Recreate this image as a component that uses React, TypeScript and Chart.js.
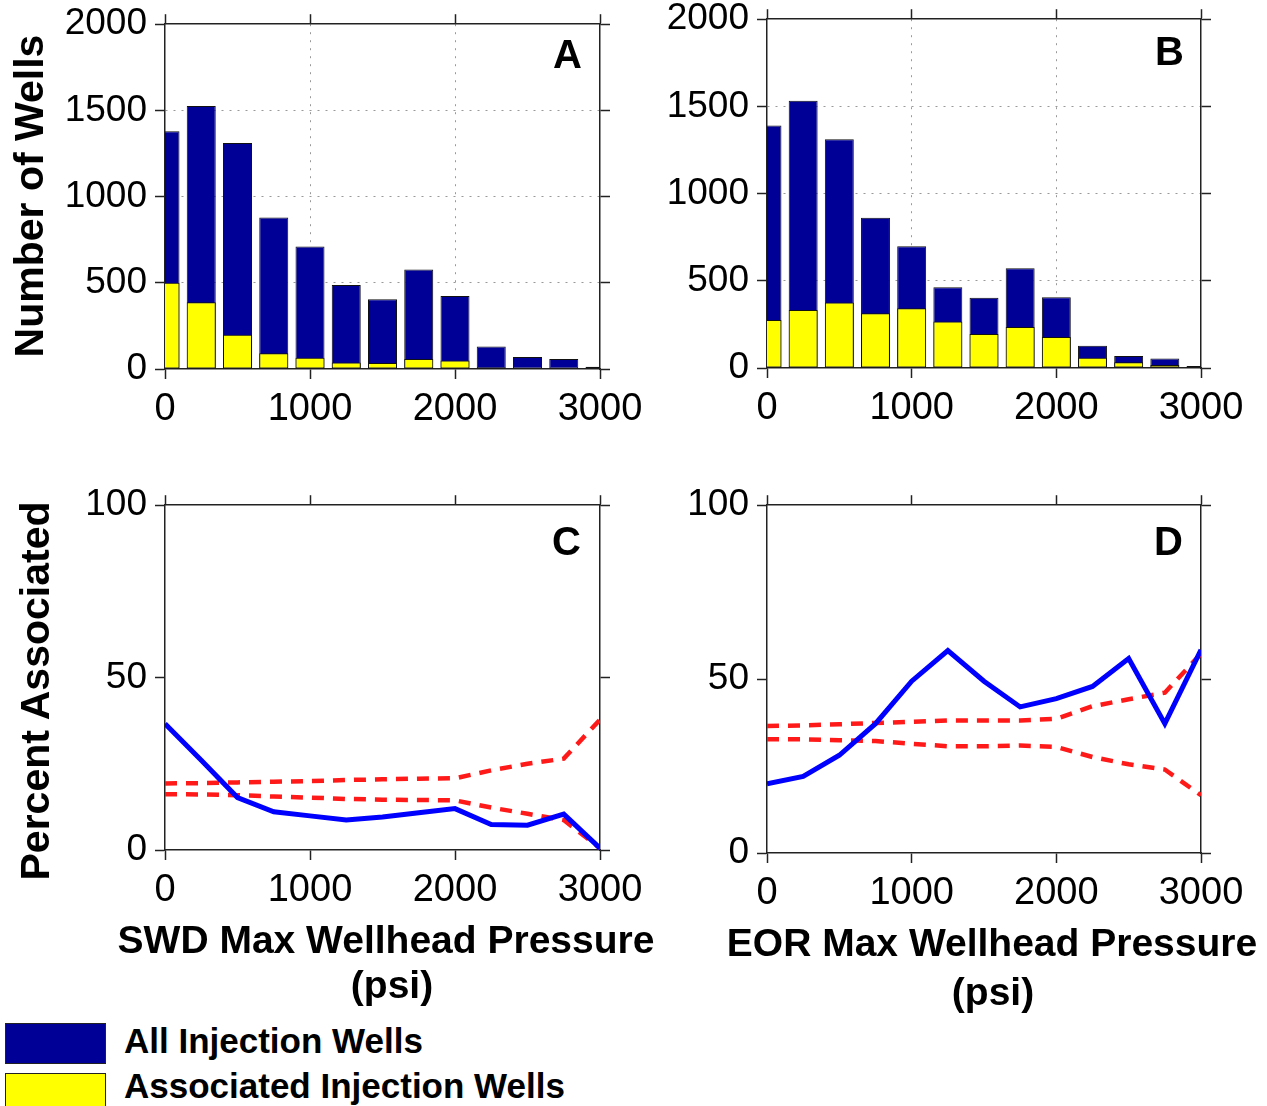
import React, { useEffect, useRef } from 'react';
import { Chart, registerables } from 'chart.js';

Chart.register(...registerables);

// ---------- data ----------
const pressures = [0, 250, 500, 750, 1000, 1250, 1500, 1750, 2000, 2250, 2500, 2750, 3000];

const swdAllWells = [1379, 1525, 1311, 879, 711, 487, 404, 577, 423, 131, 69, 58, 13];
const swdAssocWells = [500, 387, 198, 92, 65, 38, 35, 58, 50, 8, 2, 1, 0];
const eorAllWells = [1390, 1533, 1312, 862, 698, 463, 403, 572, 405, 128, 69, 54, 11];
const eorAssocWells = [275, 333, 375, 314, 342, 266, 195, 235, 178, 59, 33, 17, 2];

const swdPercent = [36.6, 26.0, 15.2, 11.1, 9.9, 8.7, 9.6, 10.8, 12.0, 7.4, 7.2, 10.4, 0.5];
const swdUpper = [19.3, 19.4, 19.6, 19.8, 20.0, 20.3, 20.5, 20.7, 20.8, 23.1, 25.0, 26.5, 37.8];
const swdLower = [16.2, 16.1, 15.9, 15.5, 15.2, 14.8, 14.6, 14.5, 14.4, 12.3, 10.5, 8.7, 0.5];
const eorPercent = [19.9, 22.0, 28.1, 37.2, 49.4, 58.2, 49.4, 42.0, 44.4, 47.9, 55.9, 37.2, 58.4];
const eorUpper = [36.5, 36.7, 37.0, 37.4, 37.7, 38.1, 38.1, 38.1, 38.6, 42.2, 44.2, 46.1, 57.3];
const eorLower = [32.7, 32.7, 32.4, 32.2, 31.4, 30.7, 30.7, 30.9, 30.5, 27.6, 25.5, 24.0, 16.6];

const pressureTicks = [0, 1000, 2000, 3000];
const countTicks = [0, 500, 1000, 1500, 2000];
const percentTicks = [0, 50, 100];

const countYLabel = 'Number of Wells';
const percentYLabel = 'Percent Associated';
const swdXLabel = ['SWD Max Wellhead Pressure', '(psi)'];
const eorXLabel = ['EOR Max Wellhead Pressure', '(psi)'];
const legendLabels = ['All Injection Wells', 'Associated Injection Wells'];

// ---------- styling ----------
const FONT = "'Liberation Sans', Arial, Helvetica, sans-serif";
const NAVY = '#000096';
const YELLOW = '#ffff00';
const BLUE = '#0000ff';
const RED = '#ff1a1a';
const FRAME = '#222222';
const GRID = 'rgba(0,0,0,0.4)';

const YW = 140; // left axis width
const XH = 70; // bottom axis height
const PT = 20; // top padding
const PR = 45; // right padding
const TL = 10; // tick length

const toXY = (xs: number[], ys: number[]) => xs.map((x, i) => ({ x, y: ys[i] }));

const letterPlugin = {
  id: 'panelLetter',
  afterDraw(chart: any, _args: any, opts: any) {
    const { ctx, chartArea } = chart;
    ctx.save();
    ctx.font = `bold 40px ${FONT}`;
    ctx.fillStyle = '#000';
    ctx.textAlign = 'right';
    ctx.textBaseline = 'alphabetic';
    ctx.fillText(opts.text, chartArea.right - opts.dx, chartArea.top + opts.dy);
    ctx.restore();
  },
};

type Spec = {
  kind: 'bar' | 'line';
  left: number;
  top: number;
  w: number;
  h: number;
  letter: string;
  dx: number;
  dy: number;
  yMax: number;
  yTicks: number[];
  grid: boolean;
  datasets: any[];
};

function setTicks(list: number[]) {
  return (s: any) => {
    s.ticks = list.map((v) => ({ value: v }));
  };
}

const plainLabel = (v: any) => String(v);

function buildConfig(p: Spec): any {
  const xGridColor = (c: any) =>
    p.grid && c.tick && c.tick.value > 0 && c.tick.value < 3000 ? GRID : 'rgba(0,0,0,0)';
  const yGridColor = (c: any) =>
    p.grid && c.tick && c.tick.value > 0 && c.tick.value < p.yMax ? GRID : 'rgba(0,0,0,0)';
  const border = { display: true, color: FRAME, width: 1.5, dash: [2, 6] };
  return {
    type: p.kind,
    data: { datasets: p.datasets },
    options: {
      animation: false,
      responsive: false,
      maintainAspectRatio: false,
      devicePixelRatio: 1,
      events: [],
      layout: { padding: { left: 0, top: PT, right: PR, bottom: 0 } },
      plugins: {
        legend: { display: false },
        tooltip: { enabled: false },
        panelLetter: { text: p.letter, dx: p.dx, dy: p.dy },
      },
      scales: {
        x: {
          type: 'linear',
          position: 'bottom',
          min: 0,
          max: 3000,
          offset: false,
          afterBuildTicks: setTicks(pressureTicks),
          afterFit: (s: any) => {
            s.height = XH;
          },
          ticks: {
            font: { family: FONT, size: 38 },
            color: '#000',
            padding: 8,
            maxRotation: 0,
            autoSkip: false,
            callback: plainLabel,
          },
          grid: {
            offset: false,
            drawOnChartArea: true,
            color: xGridColor,
            tickColor: FRAME,
            tickLength: TL,
            tickWidth: 1.5,
            lineWidth: 1,
          },
          border,
        },
        x2: {
          type: 'linear',
          position: 'top',
          min: 0,
          max: 3000,
          offset: false,
          afterBuildTicks: setTicks(pressureTicks),
          afterFit: (s: any) => {
            s.height = TL;
          },
          ticks: { display: false },
          grid: {
            offset: false,
            drawOnChartArea: false,
            tickColor: FRAME,
            tickLength: TL,
            tickWidth: 1.5,
          },
          border: { display: true, color: FRAME, width: 1.5 },
        },
        y: {
          type: 'linear',
          position: 'left',
          min: 0,
          max: p.yMax,
          afterBuildTicks: setTicks(p.yTicks),
          afterFit: (s: any) => {
            s.width = YW;
          },
          ticks: {
            font: { family: FONT, size: 37 },
            color: '#000',
            padding: 8,
            autoSkip: false,
            callback: plainLabel,
          },
          grid: {
            drawOnChartArea: true,
            color: yGridColor,
            tickColor: FRAME,
            tickLength: TL,
            tickWidth: 1.5,
            lineWidth: 1,
          },
          border,
        },
        y2: {
          type: 'linear',
          position: 'right',
          min: 0,
          max: p.yMax,
          afterBuildTicks: setTicks(p.yTicks),
          afterFit: (s: any) => {
            s.width = TL;
          },
          ticks: { display: false },
          grid: {
            drawOnChartArea: false,
            tickColor: FRAME,
            tickLength: TL,
            tickWidth: 1.5,
          },
          border: { display: true, color: FRAME, width: 1.5 },
        },
      },
    },
    plugins: [letterPlugin],
  };
}

function barSets(all: number[], assoc: number[]) {
  const common = {
    borderColor: '#111',
    borderWidth: 1,
    barPercentage: 0.8,
    categoryPercentage: 1,
    grouped: false,
    clip: 0,
    borderSkipped: false,
  };
  return [
    { ...common, label: legendLabels[1], data: toXY(pressures, assoc), backgroundColor: YELLOW, order: 0 },
    { ...common, label: legendLabels[0], data: toXY(pressures, all), backgroundColor: NAVY, order: 1 },
  ];
}

function lineSets(pct: number[], upper: number[], lower: number[]) {
  const dashed = {
    borderColor: RED,
    borderWidth: 4.5,
    borderDash: [12, 9],
    pointRadius: 0,
    tension: 0,
    fill: false,
    order: 1,
  };
  return [
    {
      label: 'Percent associated',
      data: toXY(pressures, pct),
      borderColor: BLUE,
      borderWidth: 5,
      pointRadius: 0,
      tension: 0,
      fill: false,
      order: 0,
    },
    { ...dashed, label: 'Upper bound', data: toXY(pressures, upper) },
    { ...dashed, label: 'Lower bound', data: toXY(pressures, lower) },
  ];
}

const specs: Spec[] = [
  {
    kind: 'bar', left: 165, top: 24, w: 435, h: 345, letter: 'A', dx: 18, dy: 44,
    yMax: 2000, yTicks: countTicks, grid: true, datasets: barSets(swdAllWells, swdAssocWells),
  },
  {
    kind: 'bar', left: 767, top: 19, w: 434, h: 349, letter: 'B', dx: 17, dy: 46,
    yMax: 2000, yTicks: countTicks, grid: true, datasets: barSets(eorAllWells, eorAssocWells),
  },
  {
    kind: 'line', left: 165, top: 505, w: 435, h: 345, letter: 'C', dx: 19, dy: 50,
    yMax: 100, yTicks: percentTicks, grid: false, datasets: lineSets(swdPercent, swdUpper, swdLower),
  },
  {
    kind: 'line', left: 767, top: 505, w: 434, h: 348, letter: 'D', dx: 18, dy: 50,
    yMax: 100, yTicks: percentTicks, grid: false, datasets: lineSets(eorPercent, eorUpper, eorLower),
  },
];

function Panel({ spec }: { spec: Spec }) {
  const ref = useRef<HTMLCanvasElement>(null);
  useEffect(() => {
    if (!ref.current) return;
    const chart = new Chart(ref.current, buildConfig(spec));
    return () => chart.destroy();
  }, [spec]);
  const w = YW + spec.w + TL + PR;
  const h = PT + TL + spec.h + XH;
  return (
    <canvas
      ref={ref}
      width={w}
      height={h}
      style={{ position: 'absolute', left: spec.left - YW, top: spec.top - PT - TL, width: w, height: h }}
    />
  );
}

function VTitle({ text, cx, cy, size }: { text: string; cx: number; cy: number; size: number }) {
  const w = 500;
  const h = 46;
  return (
    <div
      style={{
        position: 'absolute',
        left: cx - w / 2,
        top: cy - h / 2,
        width: w,
        height: h,
        lineHeight: `${h}px`,
        textAlign: 'center',
        fontFamily: FONT,
        fontWeight: 'bold',
        fontSize: size,
        color: '#000',
        whiteSpace: 'nowrap',
        transform: 'rotate(-90deg)',
        transformOrigin: '50% 50%',
      }}
    >
      {text}
    </div>
  );
}

// text line placed by its baseline
function HText({ text, cx, baseline, size, left }: { text: string; cx?: number; baseline: number; size: number; left?: number }) {
  const lh = Math.round(size * 1.2);
  const base = (lh - size * 1.117) / 2 + size * 0.905;
  const w = 700;
  const style: any = {
    position: 'absolute',
    top: baseline - base,
    height: lh,
    lineHeight: `${lh}px`,
    fontFamily: FONT,
    fontWeight: 'bold',
    fontSize: size,
    color: '#000',
    whiteSpace: 'nowrap',
  };
  if (left !== undefined) {
    style.left = left;
  } else {
    style.left = (cx as number) - w / 2;
    style.width = w;
    style.textAlign = 'center';
  }
  return <div style={style}>{text}</div>;
}

export default function App() {
  return (
    <div
      style={{
        position: 'absolute',
        left: 0,
        top: 0,
        width: 1267,
        height: 1106,
        overflow: 'hidden',
        background: '#fff',
      }}
    >
      {specs.map((s) => (
        <Panel key={s.letter} spec={s} />
      ))}
      <VTitle text={countYLabel} cx={29} cy={196} size={41} />
      <VTitle text={percentYLabel} cx={35} cy={691} size={41} />
      <HText text={swdXLabel[0]} cx={386} baseline={953} size={39} />
      <HText text={swdXLabel[1]} cx={392} baseline={998} size={39} />
      <HText text={eorXLabel[0]} cx={992} baseline={956} size={39} />
      <HText text={eorXLabel[1]} cx={993} baseline={1005} size={39} />
      <div
        style={{
          position: 'absolute',
          left: 5,
          top: 1023,
          width: 99,
          height: 39,
          background: NAVY,
          border: `1.5px solid ${FRAME}`,
        }}
      />
      <div
        style={{
          position: 'absolute',
          left: 5,
          top: 1073,
          width: 99,
          height: 41,
          background: YELLOW,
          border: `1.5px solid ${FRAME}`,
        }}
      />
      <HText text={legendLabels[0]} left={124} baseline={1053} size={35} />
      <HText text={legendLabels[1]} left={124} baseline={1098} size={35} />
    </div>
  );
}
